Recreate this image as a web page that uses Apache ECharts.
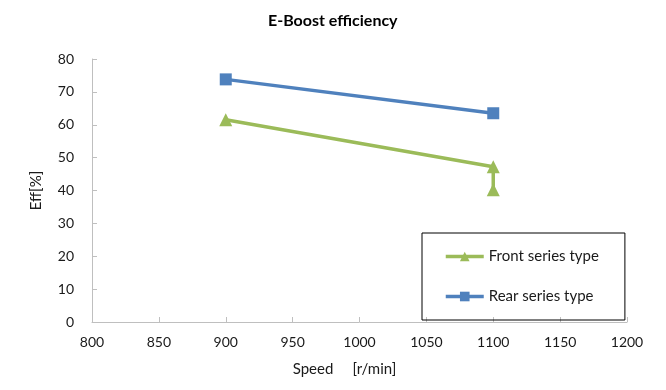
<!DOCTYPE html>
<html><head><meta charset="utf-8">
<script src="https://cdn.jsdelivr.net/npm/echarts@6/dist/echarts.min.js"></script>
<style>html,body{margin:0;padding:0;background:#fff}#c{width:666px;height:390px}</style>
</head><body><div id="c"></div>
<script>
const titleText = 'E-Boost efficiency';
const xName = 'Speed     [r/min]';
const yName = 'Eff[%]';
const frontName = 'Front series type';
const rearName = 'Rear series type';
const frontSpeed = [900, 1100, 1100];
const frontEff = [61.5, 47.2, 40.2];
const rearSpeed = [900, 1100];
const rearEff = [73.8, 63.5];

const font = "Lato, 'Open Sans', sans-serif";
const axisColor = '#bfbfbf';
const txt = '#1a1a1a';
const chart = echarts.init(document.getElementById('c'));
chart.setOption({
  animation: false,
  textStyle: {fontFamily: font},
  title: {text: titleText, left: 263, top: 8, textStyle: {fontSize: 16, fontWeight: 'bold', color: '#000', fontFamily: font}},
  grid: {left: 92, right: 39, top: 59, bottom: 68},
  legend: {
    orient: 'vertical', left: 422, top: 233,
    padding: [16, 26, 16, 22], itemGap: 25, itemWidth: 38, itemHeight: 12,
    borderColor: '#000', borderWidth: 1,
    lineStyle: {width: 3.5},
    textStyle: {fontSize: 15, color: txt, fontFamily: font},
    data: [frontName, rearName]
  },
  xAxis: {
    type: 'value', min: 800, max: 1200, interval: 50,
    name: xName, nameLocation: 'middle', nameGap: 40,
    nameTextStyle: {fontSize: 15, color: txt, padding: [0, 30, 0, 0]},
    axisLine: {show: true, lineStyle: {color: axisColor}},
    axisTick: {show: true, inside: true, length: 5, lineStyle: {color: axisColor}},
    axisLabel: {fontSize: 14, color: txt, margin: 13, formatter: v => String(v)},
    splitLine: {show: false}
  },
  yAxis: {
    type: 'value', min: 0, max: 80, interval: 10,
    name: yName, nameLocation: 'middle', nameGap: 48,
    nameTextStyle: {fontSize: 15, color: txt},
    axisLine: {show: true, lineStyle: {color: axisColor}},
    axisTick: {show: true, inside: true, length: 5, lineStyle: {color: axisColor}},
    axisLabel: {fontSize: 14, color: txt, margin: 18},
    splitLine: {show: false}
  },
  series: [
    {
      name: frontName, type: 'line',
      data: frontSpeed.map((s, i) => [s, frontEff[i]]),
      symbol: 'triangle', symbolSize: 13, showAllSymbol: true,
      lineStyle: {color: '#9bbb59', width: 3.5},
      itemStyle: {color: '#9bbb59'}
    },
    {
      name: rearName, type: 'line',
      data: rearSpeed.map((s, i) => [s, rearEff[i]]),
      symbol: 'rect', symbolSize: 12,
      lineStyle: {color: '#4f81bd', width: 3.5},
      itemStyle: {color: '#4f81bd'}
    }
  ]
});
</script></body></html>
